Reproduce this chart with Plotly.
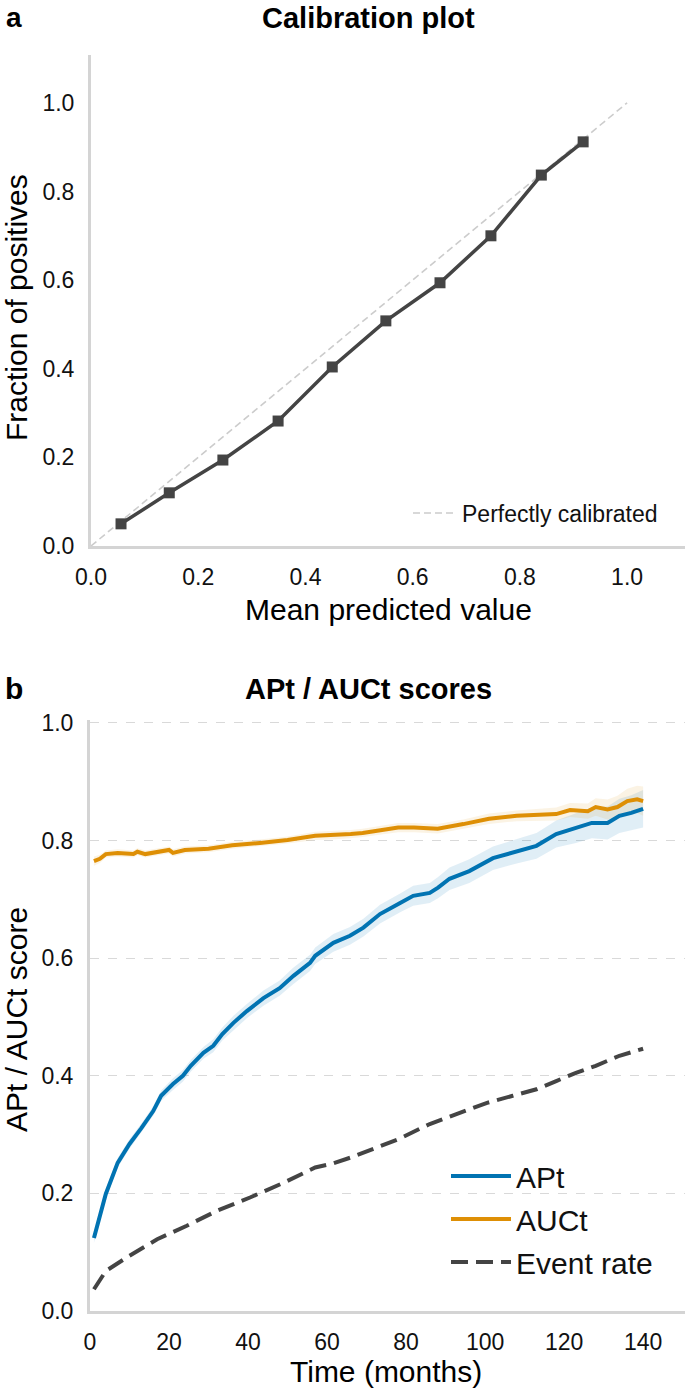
import plotly.graph_objects as go

# ---------------- Panel a: calibration ----------------
cal_pred = [0.056, 0.146, 0.246, 0.349, 0.450, 0.550, 0.651, 0.746, 0.840, 0.918]
cal_frac = [0.050, 0.120, 0.194, 0.282, 0.404, 0.508, 0.594, 0.700, 0.837, 0.912]
perfect_x = [0.0, 1.0]
perfect_y = [0.0, 1.0]
cal_ticks = [0.0, 0.2, 0.4, 0.6, 0.8, 1.0]

# ---------------- Panel b: APt / AUCt ----------------
apt_t = [1, 4, 7, 10, 13, 16, 18, 21, 23.5, 25.5, 28.7, 31.2, 33.5, 36.3, 39.7,
         43.9, 48, 51.5, 55.7, 57, 61.6, 65.8, 69.2, 73.4, 78.5, 81.8, 86, 88.1,
         91, 96, 102, 108, 113, 118, 123, 127, 131, 134, 137, 140]
apt_v = [0.124, 0.199, 0.252, 0.284, 0.311, 0.340, 0.366, 0.386, 0.400, 0.417,
         0.439, 0.451, 0.471, 0.490, 0.510, 0.532, 0.549, 0.570, 0.592, 0.604,
         0.626, 0.638, 0.652, 0.675, 0.694, 0.706, 0.711, 0.720, 0.735, 0.748,
         0.770, 0.782, 0.791, 0.811, 0.821, 0.830, 0.830, 0.842, 0.847, 0.854]
apt_ci = [0.008, 0.008, 0.008, 0.008, 0.008, 0.008, 0.009, 0.010, 0.010, 0.010,
          0.010, 0.011, 0.011, 0.012, 0.012, 0.013, 0.013, 0.014, 0.014, 0.014,
          0.015, 0.015, 0.015, 0.016, 0.016, 0.017, 0.017, 0.018, 0.019, 0.020,
          0.020, 0.021, 0.022, 0.023, 0.025, 0.026, 0.028, 0.029, 0.030, 0.032]

auc_t = [1, 2.5, 4, 7, 11, 12, 14, 18, 20, 21, 24, 30, 36, 43, 50, 57, 61, 66,
         69, 78, 82, 88, 94.5, 101, 108, 115, 118, 121.5, 126, 128, 131, 133.5,
         136, 138.5, 140]
auc_v = [0.765, 0.769, 0.777, 0.779, 0.777, 0.781, 0.777, 0.782, 0.784, 0.779,
         0.784, 0.786, 0.792, 0.796, 0.801, 0.808, 0.809, 0.811, 0.813, 0.822,
         0.822, 0.820, 0.828, 0.837, 0.842, 0.844, 0.845, 0.852, 0.850, 0.857,
         0.853, 0.857, 0.867, 0.870, 0.867]
auc_ci = [0.008, 0.007, 0.006, 0.006, 0.006, 0.006, 0.006, 0.006, 0.006, 0.006,
          0.006, 0.006, 0.006, 0.006, 0.006, 0.007, 0.007, 0.007, 0.007, 0.008,
          0.008, 0.008, 0.008, 0.009, 0.009, 0.010, 0.011, 0.012, 0.013, 0.015,
          0.017, 0.019, 0.021, 0.023, 0.025]

evt_t = [1, 4, 10, 17, 24.5, 32, 40.5, 49, 57, 61, 66, 69, 78, 86, 94.5, 100.5,
         107, 113, 118, 123, 128, 134, 140]
evt_v = [0.037, 0.068, 0.094, 0.122, 0.145, 0.170, 0.193, 0.218, 0.244, 0.250,
         0.261, 0.269, 0.292, 0.318, 0.340, 0.354, 0.366, 0.377, 0.391, 0.405,
         0.417, 0.434, 0.446]
time_ticks = [0, 20, 40, 60, 80, 100, 120, 140]
score_ticks = [0.0, 0.2, 0.4, 0.6, 0.8, 1.0]

# ---------------- styling ----------------
FONT = "Liberation Sans, Arial, Helvetica, sans-serif"
BLUE = "#0173B2"
ORANGE = "#DE8F05"
DARK = "#444444"
SPINE = "#d4d4d4"
W, H = 685, 1390

def band(x, v, ci):
    up = [a + b for a, b in zip(v, ci)]
    lo = [a - b for a, b in zip(v, ci)]
    return list(x) + list(x)[::-1], up + lo[::-1]

fig = go.Figure()

# panel a
fig.add_trace(go.Scatter(x=perfect_x, y=perfect_y, mode="lines",
                         line=dict(color="#cccccc", width=1.6, dash="7px,4px"),
                         name="Perfectly calibrated", xaxis="x", yaxis="y",
                         legend="legend"))
fig.add_trace(go.Scatter(x=cal_pred, y=cal_frac, mode="lines+markers",
                         line=dict(color=DARK, width=3.5),
                         marker=dict(symbol="square", size=11, color=DARK),
                         name="Calibration", showlegend=False,
                         xaxis="x", yaxis="y"))

# panel b bands
bx, by = band(apt_t, apt_v, apt_ci)
fig.add_trace(go.Scatter(x=bx, y=by, fill="toself", mode="lines",
                         line=dict(width=0), fillcolor="rgba(1,115,178,0.12)",
                         hoverinfo="skip", showlegend=False, xaxis="x2", yaxis="y2"))
bx, by = band(auc_t, auc_v, auc_ci)
fig.add_trace(go.Scatter(x=bx, y=by, fill="toself", mode="lines",
                         line=dict(width=0), fillcolor="rgba(222,143,5,0.11)",
                         hoverinfo="skip", showlegend=False, xaxis="x2", yaxis="y2"))

fig.add_trace(go.Scatter(x=apt_t, y=apt_v, mode="lines", name="APt",
                         line=dict(color=BLUE, width=4), legendgroup="g1",
                         xaxis="x2", yaxis="y2", legend="legend2"))
fig.add_trace(go.Scatter(x=auc_t, y=auc_v, mode="lines", name="AUCt",
                         line=dict(color=ORANGE, width=4), legendgroup="g2",
                         xaxis="x2", yaxis="y2", legend="legend2"))
fig.add_trace(go.Scatter(x=evt_t, y=evt_v, mode="lines", name="Event rate",
                         line=dict(color=DARK, width=4, dash="17px,8px"),
                         legendgroup="g3", xaxis="x2", yaxis="y2", legend="legend2"))

axis_common = dict(showline=True, linecolor=SPINE, linewidth=3, zeroline=False,
                   automargin=False,
                   ticks="outside", tickcolor="rgba(0,0,0,0)",
                   tickfont=dict(family=FONT, size=23, color="#111111"),
                   tickformat=".1f")
XT = dict(ticklen=8)
YT = dict(ticklen=9)

fig.update_layout(
    template="none",
    width=W, height=H,
    margin=dict(l=0, r=0, t=0, b=0, pad=0, autoexpand=False),
    paper_bgcolor="white", plot_bgcolor="white",
    font=dict(family=FONT, color="#111111"),
    xaxis=dict(domain=[91 / W, 1.0], range=[0, 1.108], anchor="y",
               tickvals=cal_ticks, showgrid=False, **axis_common, **XT),
    yaxis=dict(domain=[(H - 546) / H, (H - 55) / H], range=[0, 1.108], anchor="x",
               tickvals=cal_ticks, showgrid=False, **axis_common, **YT),
    xaxis2=dict(domain=[90 / W, 1.0], range=[0, 150.6], anchor="y2",
                showgrid=False, **{**axis_common, "tickformat": "d"}, **XT,
                tickvals=time_ticks),
    yaxis2=dict(domain=[(H - 1311) / H, (H - 720) / H], range=[0, 1.005], anchor="x2",
                tickvals=score_ticks, showgrid=True, gridcolor="#d9d9d9",
                gridwidth=1, griddash="dash", **axis_common, **YT),
    legend=dict(x=(464 - 56) / W, y=1 - 513 / H, xanchor="left", yanchor="middle",
                bgcolor="rgba(0,0,0,0)", borderwidth=0, itemwidth=44,
                font=dict(family=FONT, size=23, color="#111111")),
    legend2=dict(x=(518 - 72) / W, y=1 - 1219 / H, xanchor="left", yanchor="middle",
                 bgcolor="rgba(0,0,0,0)", borderwidth=0, tracegroupgap=1,
                 itemwidth=60,
                 font=dict(family=FONT, size=30, color="#111111")),
    showlegend=True,
)

def txt(s, x, y, size, bold=False, angle=0, yanchor="middle"):
    fig.add_annotation(text=f"<b>{s}</b>" if bold else s,
                       x=x / W, y=1 - y / H, xref="paper", yref="paper",
                       xanchor="center", yanchor=yanchor, showarrow=False,
                       textangle=angle,
                       font=dict(family=FONT, size=size, color="#000000"))

txt("a", 14, 0, 28, bold=True, yanchor="top")
txt("b", 14, 688, 30, bold=True)
txt("Calibration plot", 368, 0, 29, bold=True, yanchor="top")
txt("APt / AUCt scores", 368, 689, 29, bold=True)
txt("Mean predicted value", 388, 609, 30)
txt("Time (months)", 386, 1371, 30)
txt("Fraction of positives", 16, 308, 30, angle=-90)
txt("APt / AUCt score", 16, 1020, 30, angle=-90)

fig.write_html("out.html", config={"displayModeBar": False},
               post_script="document.body.style.margin='0px';document.body.style.overflow='hidden';")
